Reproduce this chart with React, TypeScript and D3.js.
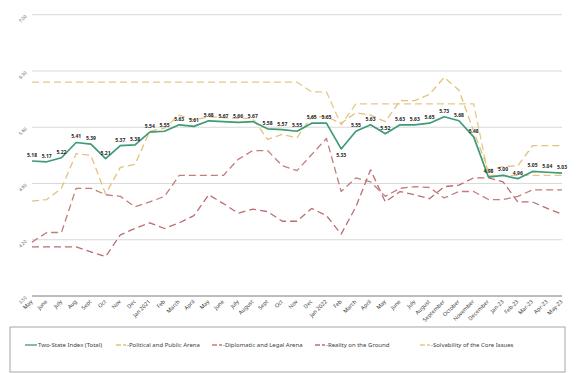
import React from "react";
import * as d3 from "d3";

const months = [
  "May", "June", "July", "Aug", "Sept", "Oct", "Nov", "Dec",
  "Jan 2021", "Feb", "March", "April", "May", "June", "July", "August", "Sept", "Oct", "Nov", "Dec",
  "Jan 2022", "Feb", "March", "April", "May", "June", "July", "August", "September", "October", "November", "December",
  "Jan-23", "Feb-23", "Mar-23", "Apr-23", "May-23",
];

const total = [5.18, 5.17, 5.22, 5.41, 5.39, 5.21, 5.37, 5.38, 5.54, 5.55, 5.63, 5.61, 5.68, 5.67, 5.66, 5.67, 5.58, 5.57, 5.55, 5.65, 5.65, 5.33, 5.55, 5.63, 5.52, 5.63, 5.63, 5.65, 5.73, 5.68, 5.48, 4.98, 5.0, 4.96, 5.05, 5.04, 5.03];
const political = [4.68, 4.7, 4.84, 5.27, 5.25, 4.77, 5.1, 5.14, 5.55, 5.59, 5.75, 5.69, 5.73, 5.72, 5.71, 5.71, 5.45, 5.51, 5.47, 5.73, 5.73, 5.65, 5.78, 5.75, 5.67, 5.93, 5.93, 6.01, 6.22, 6.06, 5.55, 5.07, 5.11, 5.12, 5.37, 5.37, 5.37];
const diplomatic = [4.17, 4.29, 4.29, 4.84, 4.84, 4.76, 4.74, 4.61, 4.67, 4.74, 5.0, 5.0, 5.0, 5.0, 5.2, 5.31, 5.31, 5.12, 5.06, 5.26, 5.46, 4.8, 4.97, 4.92, 4.74, 4.84, 4.86, 4.85, 4.72, 4.8, 4.8, 4.7, 4.7, 4.74, 4.82, 4.82, 4.82];
const reality = [4.11, 4.11, 4.11, 4.11, 4.05, 3.99, 4.26, 4.34, 4.41, 4.34, 4.41, 4.5, 4.76, 4.65, 4.53, 4.58, 4.55, 4.43, 4.43, 4.59, 4.5, 4.27, 4.61, 5.07, 4.67, 4.8, 4.76, 4.71, 4.86, 4.88, 4.97, 4.97, 4.92, 4.67, 4.67, 4.59, 4.52];
const solvability = [6.16, 6.16, 6.16, 6.16, 6.16, 6.16, 6.16, 6.16, 6.16, 6.16, 6.16, 6.16, 6.16, 6.16, 6.16, 6.16, 6.16, 6.16, 6.16, 6.04, 6.04, 5.63, 5.89, 5.89, 5.89, 5.89, 5.89, 5.89, 5.89, 5.89, 5.89, 5.0, 5.0, 5.0, 5.0, 5.0, 5.0];

const yTicks = [3.5, 4.2, 4.9, 5.6, 6.3, 7.0];

const series = [
  { name: "Two-State Index (Total)", values: total, color: "#3f9a76", dash: null, width: 1.7 },
  { name: "Political and Public Arena", values: political, color: "#e3c27c", dash: "7,4", width: 1.3 },
  { name: "Diplomatic and Legal Arena", values: diplomatic, color: "#c47c7c", dash: "7,4", width: 1.3 },
  { name: "Reality on the Ground", values: reality, color: "#bb6d72", dash: "7,4", width: 1.3 },
  { name: "Solvability of the Core Issues", values: solvability, color: "#e6c886", dash: "7,4", width: 1.3 },
];

const legendPos = [25, 116, 212, 315, 420];

export default function App() {
  const width = 583, height = 373;
  const idx = months.map((_, i) => i);
  const x = d3.scalePoint<number>().domain(idx).range([32, 562]);
  const y = d3.scaleLinear().domain([3.5, 7]).range([296, 14.7]);
  const line = d3.line<number>().x((_, i) => x(i)!).y(d => y(d));
  const font = "'Noto Sans', 'Liberation Sans', sans-serif";

  return (
    <svg width={width} height={height} style={{ position: "absolute", left: 0, top: 0, background: "#fff" }} fontFamily={font}>
      {yTicks.map(t => (
        <g key={t}>
          <line x1={32} x2={562} y1={y(t)} y2={y(t)} stroke={t === 3.5 ? "#a6a6a6" : "#d9d9d9"} strokeWidth={t === 3.5 ? 1.3 : 1} />
          <text transform={`translate(27,${y(t) + 2}) rotate(-45)`} textAnchor="end" fontSize={4.5} fill="#595959">{t.toFixed(2)}</text>
        </g>
      ))}
      {months.map((m, i) => (
        <text key={i} transform={`translate(${x(i)! + 1},${302}) rotate(-45)`} textAnchor="end" fontSize={5.5} fill="#404040">{m}</text>
      ))}
      {series.slice().reverse().map(s => (
        <path key={s.name} d={line(s.values)!} fill="none" stroke={s.color} strokeWidth={s.width} strokeDasharray={s.dash ?? undefined} strokeLinejoin="round" />
      ))}
      {total.map((v, i) => (
        <text key={i} x={x(i)!} y={i === 21 ? y(v) + 8 : y(v) - 4} textAnchor="middle" fontSize={5} fontWeight="bold" fill="#262626">{v.toFixed(2)}</text>
      ))}
      <rect x={10} y={327} width={555} height={45} fill="none" stroke="#a6a6a6" strokeWidth={1} />
      {series.map((s, i) => (
        <g key={s.name} transform={`translate(${legendPos[i]},345)`}>
          <line x1={0} x2={s.dash ? 10 : 12} y1={0} y2={0} stroke={s.color} strokeWidth={1.3} strokeDasharray={s.dash ? "5,2" : undefined} />
          <text x={s.dash ? 11 : 13} y={2} fontSize={6} fill="#404040">{(s.dash ? "-" : "") + s.name}</text>
        </g>
      ))}
    </svg>
  );
}
